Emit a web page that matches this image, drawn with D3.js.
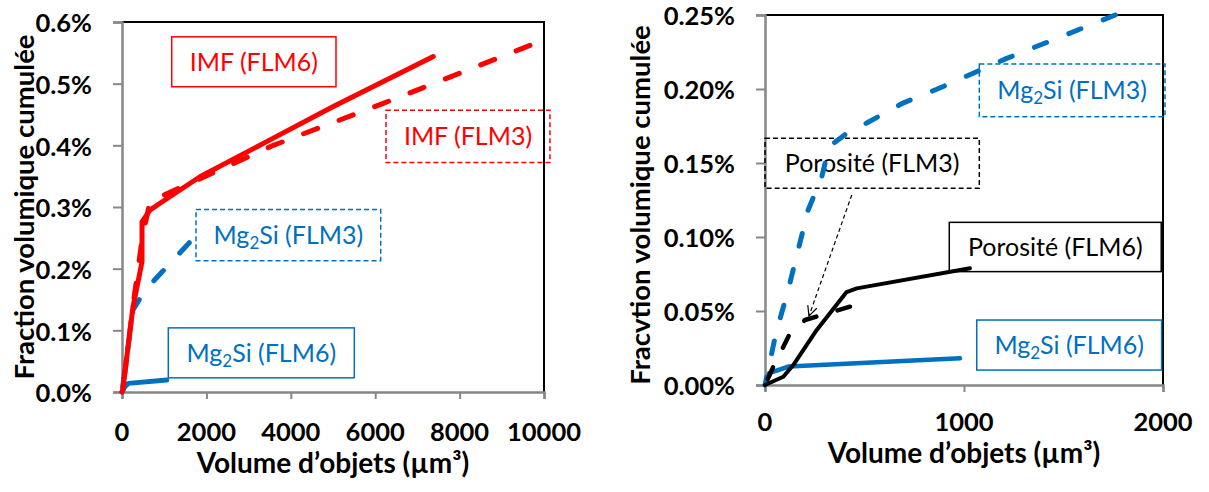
<!DOCTYPE html>
<html>
<head>
<meta charset="utf-8">
<script src="https://cdn.jsdelivr.net/npm/d3@7"></script>
<style>
  body { margin: 0; background: #fff; }
  svg { display: block; }
</style>
</head>
<body>
<div id="chart"></div>
<script>
const width = 1209;
const height = 492;
const font = "Lato, 'Open Sans', sans-serif";

// ---- left chart data (volume in µm3, cumulated fraction in %)
const leftXTicks = [0, 2000, 4000, 6000, 8000, 10000];
const leftYTicks = [0, 0.1, 0.2, 0.3, 0.4, 0.5, 0.6];

const imfFlm6Vol = [0, 17, 260, 474, 474, 474, 663, 900, 1848, 3428, 5008, 7377];
const imfFlm6Frac = [0, 0.003, 0.138, 0.211, 0.242, 0.276, 0.295, 0.306, 0.349, 0.406, 0.463, 0.544];

const imfFlm3Vol = [0, 20, 260, 480, 663, 3586, 6192, 9668];
const imfFlm3Frac = [0, 0.004, 0.140, 0.250, 0.309, 0.400, 0.468, 0.562];

const mgFlm3LVol = [0, 260, 545, 1595];
const mgFlm3LFrac = [0, 0.133, 0.165, 0.242];

const mgFlm6LVol = [0, 60, 150, 1060];
const mgFlm6LFrac = [0, 0.008, 0.014, 0.0195];

// ---- right chart data
const rightXTicks = [0, 1000, 2000];
const rightYTicks = [0, 0.05, 0.10, 0.15, 0.20, 0.25];

const mgFlm3RVol = [0, 55, 116, 166, 216, 285, 322, 410, 511, 693, 863, 1215, 1760];
const mgFlm3RFrac = [0, 0.0351, 0.064, 0.091, 0.118, 0.1405, 0.161, 0.170, 0.177, 0.1905, 0.1998, 0.2207, 0.250];

const poroFlm6Vol = [0, 92, 142, 260, 410, 461, 1030];
const poroFlm6Frac = [0, 0.0056, 0.0135, 0.0372, 0.0628, 0.0653, 0.0789];

const poroFlm3Vol = [0, 42, 84, 126, 201, 285, 427];
const poroFlm3Frac = [0, 0.0124, 0.0236, 0.0349, 0.0439, 0.0473, 0.0529];

const mgFlm6RVol = [0, 20, 120, 980];
const mgFlm6RFrac = [0, 0.008, 0.0125, 0.018];

const red = "#ff0000", blue = "#0070c0", black = "#000000";

const svg = d3.select("#chart")
    .append("svg")
    .attr("width", width)
    .attr("height", height);

function zip(xs, ys) { return xs.map((x, i) => [x, ys[i]]); }

function labelText(sel, parts) {
    // parts: [text, isSub]
    parts.forEach(p => {
        const t = sel.append("tspan").text(p[0]);
        if (p[1]) t.attr("font-size", "68%").attr("baseline-shift", "-28%");
    });
}

function drawChart(cfg) {
    const x = d3.scaleLinear().domain(cfg.xDomain).range([cfg.left, cfg.right]);
    const y = d3.scaleLinear().domain(cfg.yDomain).range([cfg.bottom, cfg.top]);
    const g = svg.append("g");

    // frame top/right black
    g.append("path")
        .attr("d", `M${cfg.left},${cfg.top}H${cfg.right}V${cfg.bottom}`)
        .attr("fill", "none").attr("stroke", "#000").attr("stroke-width", 2);

    // axes
    const yAxis = d3.axisLeft(y).tickValues(cfg.yTicks).tickSize(9).tickFormat("");
    const xAxis = d3.axisBottom(x).tickValues(cfg.xTicks).tickSize(7).tickFormat("");
    const ya = g.append("g").attr("transform", `translate(${cfg.left},0)`).call(yAxis);
    const xa = g.append("g").attr("transform", `translate(0,${cfg.bottom})`).call(xAxis);
    [ya, xa].forEach(a => {
        a.select(".domain").attr("stroke", "#878787").attr("stroke-width", 2.5);
        a.selectAll(".tick line").attr("stroke", "#878787").attr("stroke-width", 2);
    });

    // tick labels
    g.append("g").selectAll("text")
        .data(cfg.yTicks).enter().append("text")
        .attr("x", cfg.left - 30)
        .attr("y", d => y(d))
        .attr("dy", "0.4em")
        .attr("text-anchor", "end")
        .style("font", `bold 25.5px ${font}`)
        .text(cfg.yFmt);
    g.append("g").selectAll("text")
        .data(cfg.xTicks).enter().append("text")
        .attr("x", d => x(d))
        .attr("y", cfg.bottom + cfg.xLabelOff)
        .attr("dy", "0.36em")
        .attr("text-anchor", "middle")
        .style("font", `bold 25.5px ${font}`)
        .text(d => d);

    // axis titles
    g.append("text")
        .attr("x", (cfg.left + cfg.right) / 2)
        .attr("y", cfg.bottom + cfg.xTitleOff)
        .attr("dy", "0.36em")
        .attr("text-anchor", "middle")
        .style("font", `bold 28px ${font}`)
        .text("Volume d\u2019objets (\u00b5m\u00b3)");
    g.append("text")
        .attr("transform", `translate(${cfg.yTitleX},${cfg.yTitleY}) rotate(-90)`)
        .attr("dy", "0.36em")
        .attr("text-anchor", "middle")
        .style("font", `bold 27.5px ${font}`)
        .text(cfg.yTitle);

    // label boxes
    cfg.boxes.forEach(b => {
        g.append("rect")
            .attr("x", x(b.x0)).attr("y", y(b.y1))
            .attr("width", x(b.x1) - x(b.x0)).attr("height", y(b.y0) - y(b.y1))
            .attr("fill", "none").attr("stroke", b.color).attr("stroke-width", 1.5)
            .attr("stroke-dasharray", b.dashed ? "5,3" : null);
        const t = g.append("text")
            .attr("x", (x(b.x0) + x(b.x1)) / 2)
            .attr("y", (y(b.y0) + y(b.y1)) / 2)
            .attr("dy", "0.36em")
            .attr("text-anchor", "middle")
            .attr("fill", b.color)
            .style("font", `25px ${font}`);
        labelText(t, b.parts);
    });

    // arrow annotation
    if (cfg.arrow) {
        const a = cfg.arrow;
        const x1 = x(a.from[0]), y1 = y(a.from[1]), x2 = x(a.to[0]), y2 = y(a.to[1]);
        g.append("line")
            .attr("x1", x1).attr("y1", y1).attr("x2", x2).attr("y2", y2)
            .attr("stroke", "#000").attr("stroke-width", 1.2).attr("stroke-dasharray", "4,3");
        const ang = Math.atan2(y2 - y1, x2 - x1);
        const L = 11;
        const p = s => [x2 - L * Math.cos(ang + s), y2 - L * Math.sin(ang + s)];
        const a1 = p(0.45), a2 = p(-0.45);
        g.append("path")
            .attr("d", `M${a1}L${x2},${y2}L${a2}`)
            .attr("fill", "none").attr("stroke", "#000").attr("stroke-width", 1.2);
    }

    // series
    const line = d3.line().x(d => x(d[0])).y(d => y(d[1]));
    cfg.series.forEach(s => {
        const path = g.append("path")
            .datum(zip(s.vol, s.frac))
            .attr("d", line)
            .attr("fill", "none")
            .attr("stroke", s.color)
            .attr("stroke-width", s.w)
            .attr("stroke-linecap", "round")
            .attr("stroke-linejoin", "round");
        if (s.dash) {
            // align pattern so the line ends on a full dash
            const len = path.node().getTotalLength();
            const period = s.dash[0] + s.dash[1];
            const off = (((s.dash[0] - len) % period) + period) % period;
            path.attr("stroke-dasharray", s.dash.join(","))
                .attr("stroke-dashoffset", off);
        }
    });
}

drawChart({
    left: 122, right: 544, top: 22, bottom: 392,
    xDomain: [0, 10000], yDomain: [0, 0.6],
    xTicks: leftXTicks, yTicks: leftYTicks,
    yFmt: d => d.toFixed(1) + "%",
    xLabelOff: 40, xTitleOff: 71, yTitleX: 24, yTitleY: 207,
    yTitle: "Fraction volumique cumul\u00e9e",
    boxes: [
        { x0: 1178, x1: 5071, y0: 0.495, y1: 0.576, color: red, parts: [["IMF (FLM6)"]] },
        { x0: 6256, x1: 10142, y0: 0.372, y1: 0.457, color: red, dashed: true, parts: [["IMF (FLM3)"]] },
        { x0: 1754, x1: 6130, y0: 0.213, y1: 0.296, color: blue, dashed: true, parts: [["Mg"], ["2", true], ["Si (FLM3)"]] },
        { x0: 1097, x1: 5505, y0: 0.023, y1: 0.104, color: blue, parts: [["Mg"], ["2", true], ["Si (FLM6)"]] }
    ],
    series: [
        { vol: mgFlm3LVol, frac: mgFlm3LFrac, color: blue, w: 5, dash: [14, 24] },
        { vol: mgFlm6LVol, frac: mgFlm6LFrac, color: blue, w: 5 },
        { vol: imfFlm3Vol, frac: imfFlm3Frac, color: red, w: 5, dash: [15, 23] },
        { vol: imfFlm6Vol, frac: imfFlm6Frac, color: red, w: 5 }
    ]
});

drawChart({
    left: 765, right: 1163, top: 15, bottom: 385,
    xDomain: [0, 2000], yDomain: [0, 0.25],
    xTicks: rightXTicks, yTicks: rightYTicks,
    yFmt: d => d.toFixed(2) + "%",
    xLabelOff: 37, xTitleOff: 68, yTitleX: 640, yTitleY: 205,
    yTitle: "Fracvtion volumique cumul\u00e9e",
    boxes: [
        { x0: 1077, x1: 2010, y0: 0.1813, y1: 0.2169, color: blue, dashed: true, parts: [["Mg"], ["2", true], ["Si (FLM3)"]] },
        { x0: 0, x1: 1077, y0: 0.1329, y1: 0.1667, color: black, dashed: true, parts: [["Porosit\u00e9 (FLM3)"]] },
        { x0: 926, x1: 1991, y0: 0.0766, y1: 0.1099, color: black, parts: [["Porosit\u00e9 (FLM6)"]] },
        { x0: 1064, x1: 1993, y0: 0.0101, y1: 0.0439, color: blue, parts: [["Mg"], ["2", true], ["Si (FLM6)"]] }
    ],
    arrow: { from: [436, 0.1284], to: [221, 0.0466] },
    series: [
        { vol: mgFlm3RVol, frac: mgFlm3RFrac, color: blue, w: 5, dash: [13, 24] },
        { vol: mgFlm6RVol, frac: mgFlm6RFrac, color: blue, w: 4.5 },
        { vol: poroFlm3Vol, frac: poroFlm3Frac, color: black, w: 4.5, dash: [13, 22] },
        { vol: poroFlm6Vol, frac: poroFlm6Frac, color: black, w: 4 }
    ]
});
</script>
</body>
</html>
